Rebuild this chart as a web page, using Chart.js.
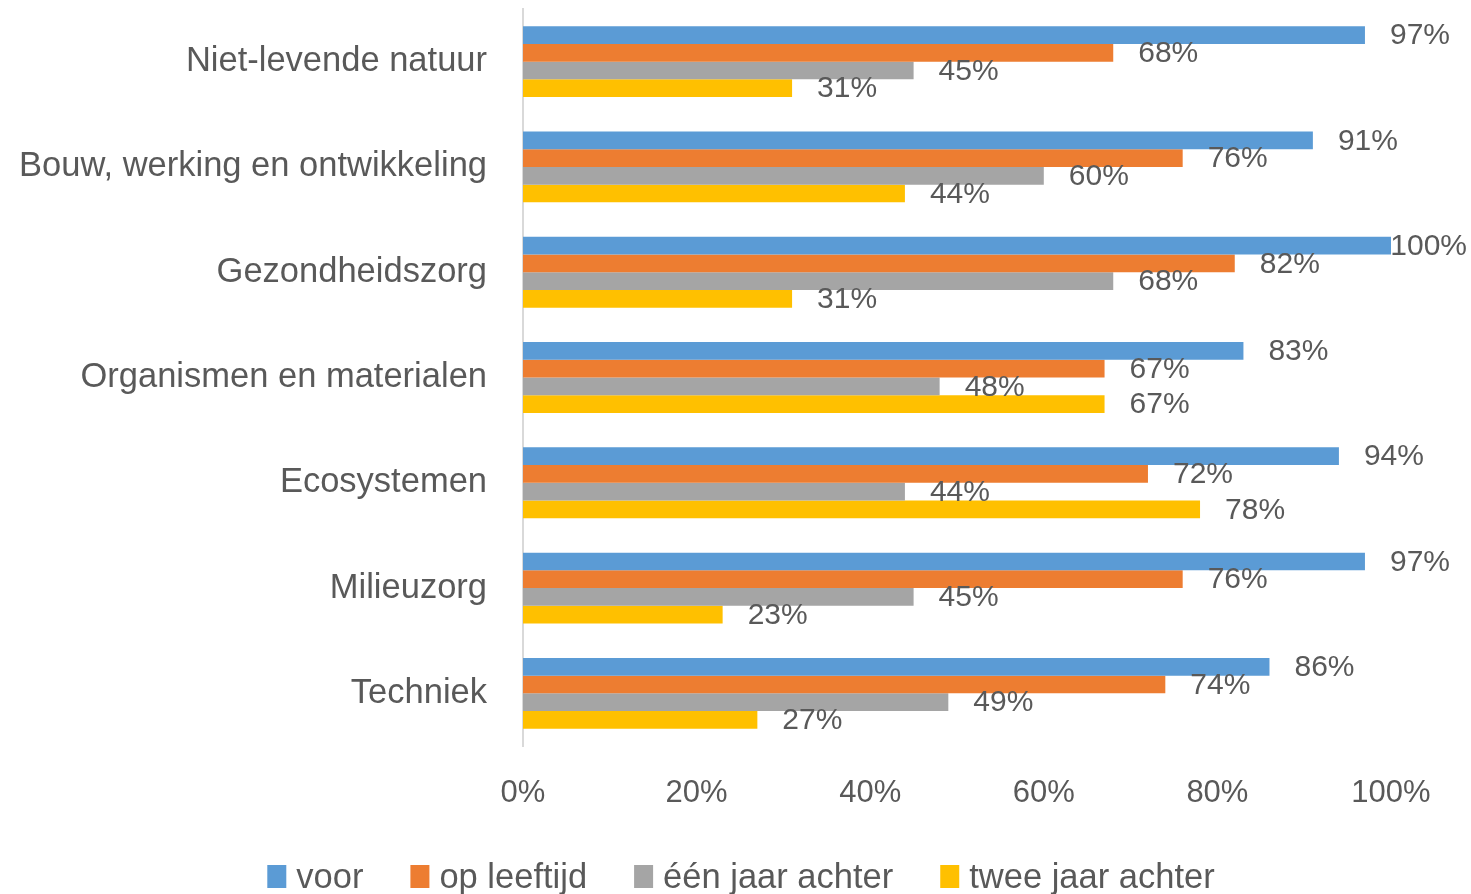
<!DOCTYPE html>
<html>
<head>
<meta charset="utf-8">
<script src="https://cdn.jsdelivr.net/npm/chart.js@4.4.1/dist/chart.umd.min.js"></script>
<style>
  html, body { margin: 0; padding: 0; background: #fff; }
  #wrap { width: 1471px; height: 894px; }
</style>
</head>
<body>
<div id="wrap"><canvas id="barChart" width="1471" height="894"></canvas></div>
<script>
// categorieën (van boven naar onder)
const categories = [
  "Niet-levende natuur",
  "Bouw, werking en ontwikkeling",
  "Gezondheidszorg",
  "Organismen en materialen",
  "Ecosystemen",
  "Milieuzorg",
  "Techniek"
];

// percentages per reeks
const voor = [97, 91, 100, 83, 94, 97, 86];
const opLeeftijd = [68, 76, 82, 67, 72, 76, 74];
const eenJaarAchter = [45, 60, 68, 48, 44, 45, 49];
const tweeJaarAchter = [31, 44, 31, 67, 78, 23, 27];

const seriesNames = ["voor", "op leeftijd", "één jaar achter", "twee jaar achter"];
const seriesColors = ["#5B9BD5", "#ED7D31", "#A5A5A5", "#FFC000"];

// x-as tick labels
const tickValues = [0, 20, 40, 60, 80, 100];

const textColor = "#595959";

// labels rechts van elke balk
const barValueLabels = {
  id: "barValueLabels",
  afterDatasetsDraw(chart) {
    const ctx = chart.ctx;
    ctx.save();
    ctx.font = "30px 'Liberation Sans', Arial, sans-serif";
    ctx.fillStyle = textColor;
    ctx.textAlign = "left";
    ctx.textBaseline = "middle";
    chart.data.datasets.forEach((ds, i) => {
      const meta = chart.getDatasetMeta(i);
      meta.data.forEach((bar, j) => {
        const txt = ds.data[j] + "%";
        const w = ctx.measureText(txt).width;
        // niet buiten het beeld laten lopen
        const x = Math.min(bar.x + 25, chart.width - 4 - w);
        ctx.fillText(txt, x, bar.y + 1);
      });
    });
    ctx.restore();
  }
};

// eigen legenda onderaan
const bottomLegend = {
  id: "bottomLegend",
  afterDraw(chart) {
    const ctx = chart.ctx;
    ctx.save();
    ctx.font = "34.5px 'Liberation Sans', Arial, sans-serif";
    ctx.textBaseline = "alphabetic";
    const boxW = 19, boxH = 23, gapText = 10, gapItem = 47;
    const widths = chart.data.datasets.map(ds => ctx.measureText(ds.label).width);
    let total = 0;
    widths.forEach((w, i) => {
      total += boxW + gapText + w + (i < widths.length - 1 ? gapItem : 0);
    });
    let x = 741 - total / 2;
    const boxTop = 865;
    chart.data.datasets.forEach((ds, i) => {
      ctx.fillStyle = ds.backgroundColor;
      ctx.fillRect(x, boxTop, boxW, boxH);
      x += boxW + gapText;
      ctx.fillStyle = textColor;
      ctx.fillText(ds.label, x, 888);
      x += widths[i] + gapItem;
    });
    ctx.restore();
  }
};

const ctx = document.getElementById("barChart").getContext("2d");
new Chart(ctx, {
  type: "bar",
  data: {
    labels: categories,
    datasets: [
      { label: seriesNames[0], data: voor, backgroundColor: seriesColors[0] },
      { label: seriesNames[1], data: opLeeftijd, backgroundColor: seriesColors[1] },
      { label: seriesNames[2], data: eenJaarAchter, backgroundColor: seriesColors[2] },
      { label: seriesNames[3], data: tweeJaarAchter, backgroundColor: seriesColors[3] }
    ]
  },
  options: {
    indexAxis: "y",
    responsive: false,
    animation: false,
    categoryPercentage: 0.673,
    barPercentage: 1,
    layout: { padding: { top: 9, right: 80, bottom: 60, left: 0 } },
    scales: {
      x: {
        min: 0,
        max: 100,
        afterBuildTicks(scale) {
          scale.ticks = tickValues.map(v => ({ value: v }));
        },
        afterFit(scale) {
          scale.height = 88;
          scale.paddingLeft = 0;
          scale.paddingRight = 0;
        },
        grid: { display: false, drawTicks: false },
        border: { display: false },
        ticks: {
          padding: 29,
          color: textColor,
          font: { family: "'Liberation Sans', Arial, sans-serif", size: 31 },
          callback: v => v + "%"
        }
      },
      y: {
        afterFit(scale) {
          scale.width = 523;
          scale.paddingTop = 0;
          scale.paddingBottom = 0;
        },
        grid: { display: false, drawTicks: false },
        border: { display: true, color: "#D9D9D9", width: 2 },
        ticks: {
          padding: 36,
          color: textColor,
          font: { family: "'Liberation Sans', Arial, sans-serif", size: 34.5 }
        }
      }
    },
    plugins: {
      legend: { display: false },
      tooltip: { enabled: false },
      title: { display: false }
    }
  },
  plugins: [barValueLabels, bottomLegend]
});
</script>
</body>
</html>
